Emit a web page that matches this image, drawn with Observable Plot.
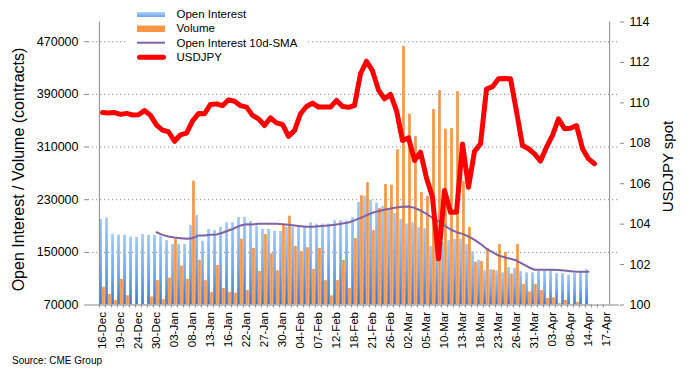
<!DOCTYPE html>
<html><head><meta charset="utf-8">
<script src="https://cdn.jsdelivr.net/npm/d3@7"></script>
<script src="https://cdn.jsdelivr.net/npm/@observablehq/plot@0.6"></script>
<style>
body{margin:0;background:#fff;font-family:"Liberation Sans",Arial,sans-serif;color:#000;}
#wrap{position:relative;width:687px;height:373px;overflow:hidden;}
#legend{position:absolute;left:125px;top:5px;width:183px;height:60px;background:#fff;}
#caption{position:absolute;left:12px;top:354px;font-size:10px;line-height:14px;}
</style></head><body>
<div id="wrap"><div id="chart"></div>
<div id="legend"><svg width="183" height="60" style="font-family:'Liberation Sans',Arial,sans-serif;font-size:11.5px">
<defs><linearGradient id="legGrad" x1="0" y1="0" x2="0" y2="1"><stop offset="0" stop-color="#b3d3f8"/><stop offset="1" stop-color="#6aa3e6"/></linearGradient></defs>
<rect x="12" y="7" width="28" height="5" fill="url(#legGrad)"/>
<text x="51.5" y="9.3" dy="0.35em">Open Interest</text>
<rect x="12" y="20.5" width="28" height="6.5" fill="#F79646"/>
<text x="51.5" y="23.3" dy="0.35em">Volume</text>
<line x1="12" x2="40" y1="37.7" y2="37.7" stroke="#7f62a4" stroke-width="2"/>
<text x="51.5" y="38" dy="0.35em">Open Interest 10d-SMA</text>
<line x1="14.5" x2="38.5" y1="52.3" y2="52.3" stroke="#ff0000" stroke-width="5" stroke-linecap="round"/>
<text x="51.5" y="52.3" dy="0.35em">USDJPY</text>
</svg></div>
<div id="caption">Source: CME Group</div></div>
<script>
const dates = ["16-Dec","17-Dec","18-Dec","19-Dec","20-Dec","23-Dec","24-Dec","26-Dec","27-Dec","30-Dec","31-Dec",
"02-Jan","03-Jan","06-Jan","07-Jan","08-Jan","09-Jan","10-Jan","13-Jan","14-Jan","15-Jan","16-Jan","17-Jan","21-Jan","22-Jan","23-Jan","24-Jan","27-Jan","28-Jan","29-Jan","30-Jan","31-Jan",
"03-Feb","04-Feb","05-Feb","06-Feb","07-Feb","10-Feb","11-Feb","12-Feb","13-Feb","14-Feb","18-Feb","19-Feb","20-Feb","21-Feb","24-Feb","25-Feb","26-Feb","27-Feb","28-Feb",
"02-Mar","03-Mar","04-Mar","05-Mar","06-Mar","09-Mar","10-Mar","11-Mar","12-Mar","13-Mar","16-Mar","17-Mar","18-Mar","19-Mar","20-Mar","23-Mar","24-Mar","25-Mar","26-Mar","27-Mar","30-Mar","31-Mar",
"01-Apr","02-Apr","03-Apr","06-Apr","07-Apr","08-Apr","09-Apr","13-Apr","14-Apr","15-Apr","16-Apr","17-Apr"];

const tickLabels = ["16-Dec","19-Dec","24-Dec","30-Dec","03-Jan","08-Jan","13-Jan","16-Jan","22-Jan","27-Jan","30-Jan","04-Feb","07-Feb","12-Feb","18-Feb","21-Feb","26-Feb","02-Mar","05-Mar","10-Mar","13-Mar","18-Mar","23-Mar","26-Mar","31-Mar","03-Apr","08-Apr","14-Apr","17-Apr"];

const openInterest = [200000,202000,177000,176000,176000,173000,173000,177000,176000,176000,
174000,168000,162000,162000,162000,191000,206000,167000,185000,183000,
188000,195000,195000,203000,203000,197000,190000,185000,185000,182000,
182000,188000,188000,188000,188000,195000,193000,193000,193000,198000,
198000,198000,203000,226000,235000,229000,225000,220000,215000,209000,
200000,193000,195000,188000,186000,159000,167000,165000,168000,170000,
170000,162000,151000,138000,122000,124000,122000,119000,127000,126000,
121000,119000,119000,122000,122000,122000,118000,118000,115000,118000,
120000,124000];

const volume = [97000,86000,77000,109000,84000,55000,55000,55000,82000,107000,
78000,111000,170000,129000,109000,258000,138000,107000,89000,130000,
95000,89000,88000,170000,92000,156000,121000,177000,148000,122000,
191000,205000,159000,151000,157000,124000,156000,107000,84000,107000,
138000,95000,171000,236000,256000,183000,217000,253000,252000,306000,
463000,360000,326000,241000,235000,367000,396000,337000,338000,394000,
258000,188000,135000,136000,156000,123000,162000,150000,117000,162000,
101000,90000,101000,92000,80000,81000,72000,77000,71000,74000,
55000,55000];

const smaStart = 9;
const oiSma = [180600,176600,174100,172600,171500,170600,171500,175500,175600,176600,
177100,179700,183200,186700,190800,192800,192300,193400,193400,193400,
193400,192800,191800,190800,189700,188800,188800,189700,190300,191300,
192300,193900,195300,198500,202300,206300,210100,212600,214600,216600,
218200,219200,219700,217700,213600,208600,202500,197400,190800,184700,
180600,178100,174100,169000,163000,155400,150300,145200,142600,140200,
137600,132600,127400,123500,123500,123500,123500,123000,122400,121400,
120400,120400,120400];

const usdjpy = [109.52,109.50,109.52,109.43,109.48,109.40,109.41,109.62,109.38,108.90,
108.65,108.57,108.10,108.42,108.50,109.10,109.47,109.46,109.92,109.95,
109.86,110.15,110.08,109.86,109.79,109.38,109.21,108.88,109.26,109.01,
108.93,108.34,108.63,109.46,109.82,109.99,109.79,109.79,109.79,110.12,
109.82,109.78,109.87,111.44,112.06,111.58,110.63,110.20,110.42,109.62,
108.14,108.27,107.15,107.56,106.28,105.33,102.29,105.67,104.59,104.59,
107.97,105.83,107.60,107.97,110.68,110.80,111.19,111.20,111.19,109.58,
107.89,107.73,107.48,107.12,107.81,108.39,109.21,108.72,108.74,108.88,
107.73,107.23,106.99];

const leftTicks = [70000,150000,230000,310000,390000,470000];
const gridTicks = [150000,230000,310000,390000,470000];
const rightTicks = [100,102,104,106,108,110,112,114];
const leftTitle = "Open Interest / Volume (contracts)";
const rightTitle = "USDJPY spot";

const W = 687, H = 352;
const xL = 88, xR = 619, yTop = 21.5, yBot = 304.5;
const bw = (xR - xL) / dates.length;
const leftMin = 70000, leftMax = 500000, rightMin = 100, rightMax = 114;
const toLeft = v => leftMin + (v - rightMin) / (rightMax - rightMin) * (leftMax - leftMin);
const fromLeft = u => rightMin + (u - leftMin) / (leftMax - leftMin) * (rightMax - rightMin);

const bars = openInterest.map((oi, i) => ({date: dates[i], oi, vol: volume[i]}));
const spot = usdjpy.map((v, i) => ({date: dates[i], v}));
const smaData = oiSma.map((v, i) => ({date: dates[i + smaStart], v}));

const font = '"Liberation Sans", Arial, sans-serif';
const chart = Plot.plot({
  width: W, height: H,
  marginLeft: xL, marginRight: W - xR, marginTop: yTop, marginBottom: H - yBot,
  style: {fontFamily: font, fontSize: "12.5px", color: "#000", background: "#fff", overflow: "visible"},
  x: {type: "band", domain: dates, padding: 0},
  y: {domain: [leftMin, leftMax]},
  marks: [
    Plot.ruleY(gridTicks, {stroke: "#8a8a8a", strokeDasharray: "1.2,2.8"}),
    Plot.barY(bars, {x: "date", y1: leftMin, y2: "oi", fill: "url(#oiGrad)", insetLeft: 0.2, insetRight: bw / 2, clip: true}),
    Plot.barY(bars, {x: "date", y1: leftMin, y2: "vol", fill: "#F79646", insetLeft: bw / 2, insetRight: 0.2, clip: true}),
    Plot.line(smaData, {x: "date", y: "v", stroke: "#7f62a4", strokeWidth: 2}),
    Plot.line(spot, {x: "date", y: d => toLeft(d.v), stroke: "#ff0000", strokeWidth: 5, strokeLinejoin: "round", strokeLinecap: "round"}),
    Plot.ruleY([leftMin], {stroke: "#888"}),
    Plot.ruleX([dates[0]], {dx: -bw / 2, stroke: "#888"}),
    Plot.ruleX([dates[dates.length - 1]], {dx: bw / 2, stroke: "#888"}),
    Plot.axisY({ticks: leftTicks, tickSize: 4, tickPadding: 6, stroke: "#888", tickFormat: d => String(d), label: null, fontSize: 12.5}),
    Plot.axisY({anchor: "right", ticks: rightTicks.map(toLeft), tickSize: 4, tickPadding: 6, stroke: "#888", tickFormat: d => String(Math.round(fromLeft(d))), label: null, fontSize: 12.5}),
    Plot.axisX({ticks: dates, tickSize: 3, tickFormat: () => "", dx: -bw / 2, stroke: "#888", label: null}),
    Plot.axisX({ticks: tickLabels, tickSize: 0, tickPadding: 7, tickRotate: -90, fontSize: 11.5, label: null}),
    Plot.text([leftTitle], {frameAnchor: "left", textAnchor: "middle", dx: -70, dy: 6, rotate: -90, fontSize: 16}),
    Plot.text([rightTitle], {frameAnchor: "right", textAnchor: "middle", dx: 49, dy: 3, rotate: -90, fontSize: 15})
  ]
});

const svg = d3.select(chart);
const grad = svg.insert("defs", ":first-child").append("linearGradient")
  .attr("id", "oiGrad").attr("x1", 0).attr("y1", 0).attr("x2", 0).attr("y2", 1);
grad.append("stop").attr("offset", 0).attr("stop-color", "#a2c7f4");
grad.append("stop").attr("offset", 0.55).attr("stop-color", "#6ea6ea");
grad.append("stop").attr("offset", 1).attr("stop-color", "#3a7ad2");
document.getElementById("chart").appendChild(chart);
</script></body></html>
